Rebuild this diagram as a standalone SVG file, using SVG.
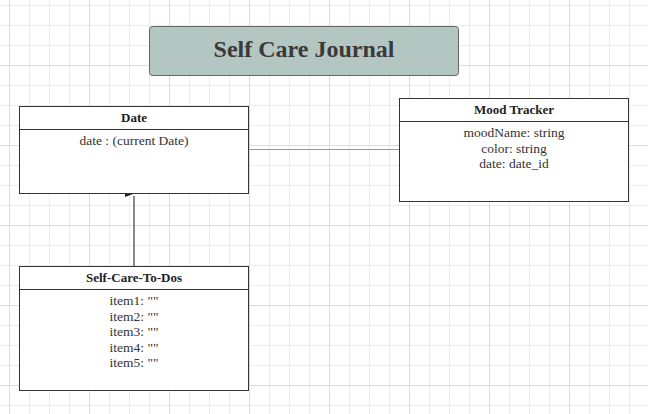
<svg xmlns="http://www.w3.org/2000/svg" width="648" height="414" viewBox="0 0 648 414">
<defs>
<pattern id="minor" x="9" y="5" width="20" height="20" patternUnits="userSpaceOnUse">
<path d="M0.5 0V20M0 0.5H20" stroke="#ececec" stroke-width="1" fill="none"/>
</pattern>
<pattern id="major" x="9" y="-15" width="80" height="80" patternUnits="userSpaceOnUse">
<path d="M0.5 0V80M0 0.5H80" stroke="#dcdcdc" stroke-width="1" fill="none"/>
</pattern>
</defs>
<style>
.box{fill:#fff;stroke:#333;stroke-width:1}
.sep{stroke:#333;stroke-width:1}
.hdr{font-family:"Liberation Serif",serif;font-weight:bold;font-size:13px;fill:#222;text-anchor:middle}
.txt{font-family:"Liberation Serif",serif;font-size:13.5px;fill:#333;text-anchor:middle}
.ttl{font-family:"Liberation Serif",serif;font-weight:bold;font-size:24px;fill:#3a3a3a;text-anchor:middle}
</style>
<rect width="648" height="414" fill="#fff"/>
<rect width="648" height="414" fill="url(#minor)"/>
<rect width="648" height="414" fill="url(#major)"/>
<g id="connectors">
<line x1="249" y1="149.5" x2="399" y2="149.5" stroke="#999" stroke-width="1"/>
<line x1="134" y1="266" x2="134" y2="196" stroke="#888" stroke-width="2"/>
<polygon points="125,191 133,194 125,197" fill="#222"/>
</g>
<g id="title">
<rect x="149.5" y="26.5" width="309" height="49" rx="3" fill="#b3c6c1" stroke="#666" stroke-width="1"/>
<text x="304" y="57" class="ttl">Self Care Journal</text>
</g>
<g id="date">
<rect x="19.5" y="106.5" width="229" height="87" class="box"/>
<line x1="19.5" y1="129.5" x2="248.5" y2="129.5" class="sep"/>
<text x="134" y="122" class="hdr">Date</text>
<text x="134" y="145" class="txt">date : (current Date)</text>
</g>
<g id="mood">
<rect x="399.5" y="98.5" width="229" height="103" class="box"/>
<line x1="399.5" y1="121.5" x2="628.5" y2="121.5" class="sep"/>
<text x="514" y="114" class="hdr">Mood Tracker</text>
<text x="514" y="137" class="txt">moodName: string</text>
<text x="514" y="153" class="txt">color: string</text>
<text x="514" y="168" class="txt">date: date_id</text>
</g>
<g id="todos">
<rect x="19.5" y="266.5" width="229" height="124" class="box"/>
<line x1="19.5" y1="289.5" x2="248.5" y2="289.5" class="sep"/>
<text x="134" y="282" class="hdr">Self-Care-To-Dos</text>
<text x="134" y="305" class="txt">item1: ""</text>
<text x="134" y="320.5" class="txt">item2: ""</text>
<text x="134" y="336" class="txt">item3: ""</text>
<text x="134" y="351.5" class="txt">item4: ""</text>
<text x="134" y="367" class="txt">item5: ""</text>
</g>
</svg>
